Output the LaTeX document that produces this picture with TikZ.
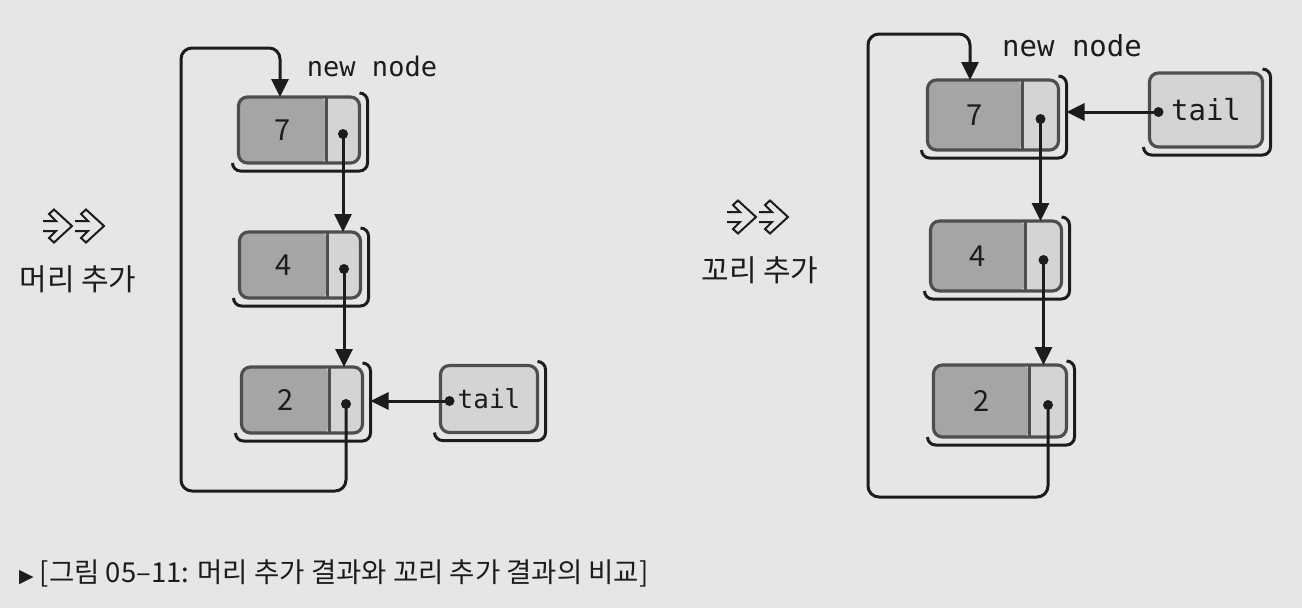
\documentclass[tikz,border=0pt]{standalone}
\usepackage{fontspec}
\setmainfont{Noto Sans CJK KR}
\newfontfamily\kr{Noto Sans CJK KR}
\newfontfamily\mono{DejaVu Sans Mono}
\newfontfamily\dv{DejaVu Sans}
\usetikzlibrary{arrows.meta,calc}
\definecolor{paper}{RGB}{230,230,228}
\definecolor{dfill}{RGB}{165,165,163}
\definecolor{pfill}{RGB}{212,212,210}
\definecolor{bord}{RGB}{78,78,78}
\definecolor{ink}{RGB}{28,28,28}
\tikzset{
  lbox/.style={draw=bord, line width=3.2pt, rounded corners=9pt, fill=pfill, outer sep=0pt, inner sep=0pt},
  divl/.style={draw=bord, line width=3pt},
  shad/.style={draw=ink, line width=3pt, rounded corners=8pt},
  conn/.style={draw=ink, line width=3pt, -{Triangle[length=18pt,width=17pt]}},
  loopc/.style={draw=ink, line width=3pt, rounded corners=11pt, -{Triangle[length=18pt,width=17pt]}},
  valtxt/.style={font=\kr\fontsize{29}{29}\selectfont, text=ink, inner sep=0pt},
  monotxt/.style={font=\mono\fontsize{#1}{#1}\selectfont, text=ink, inner sep=0pt},
  kortxt/.style={font=\kr\fontsize{30}{30}\selectfont, text=ink, inner sep=0pt},
  chev/.pic={\draw[ink, line width=2pt, line join=miter]
     (0,5) -- (13,5) -- (6,12) -- (11,16.5) -- (29,0) -- (11,-16.5) -- (6,-12) -- (13,-5) -- (0,-5);}
}
% name, x, y, w, h, pointer width, value
\newcommand\lnode[7]{%
  \node[lbox, minimum width=#4pt, minimum height=#5pt,
    path picture={\fill[dfill] (path picture bounding box.south west) rectangle ([xshift=-#6pt]path picture bounding box.north east);}]
    (#1) at (#2,#3) {};
  \draw[divl] ([xshift=-#6pt]#1.north east) -- ([xshift=-#6pt]#1.south east);
  \node[valtxt] (#1v) at ($(#1.west)!0.5!([xshift=-#6pt]#1.east)$) {#7};
  \coordinate (#1p) at ([xshift=-0.5*#6pt, yshift=-4pt]#1.east);
  \fill[ink] (#1p) circle (5pt);
  \coordinate (#1s) at ([xshift=8pt]#1.east);
  \draw[shad] ([yshift=4pt]#1.north east) -- ([xshift=8pt,yshift=4pt]#1.north east)
     -- ([xshift=8pt,yshift=-8pt]#1.south east) -- ([xshift=-6pt,yshift=-8pt]#1.south west)
     -- ([xshift=-6pt]#1.south west);
}
% name, x, y, w, h, font size
\newcommand\tnode[6]{%
  \node[lbox, minimum width=#4pt, minimum height=#5pt, monotxt=#6] (#1) at (#2,#3) {tail};
  \coordinate (#1p) at ([xshift=9pt, yshift=-2pt]#1.west);
  \fill[ink] (#1p) circle (5pt);
  \draw[shad] ([yshift=4pt]#1.north east) -- ([xshift=8pt,yshift=4pt]#1.north east)
     -- ([xshift=8pt,yshift=-8pt]#1.south east) -- ([xshift=-6pt,yshift=-8pt]#1.south west)
     -- ([xshift=-6pt]#1.south west);
}
\begin{document}
\begin{tikzpicture}[x=1pt,y=1pt]
\fill[paper] (0,0) rectangle (1302,-608);
\useasboundingbox (0,0) rectangle (1302,-608);

% ---------- left: head insertion ----------
\lnode{L7}{299}{-130}{121}{66}{33}{7}
\lnode{L4}{300}{-265}{121}{66}{33}{4}
\lnode{L2}{302}{-400}{121}{66}{33}{2}
\tnode{Lt}{489}{-399}{97}{67}{26}

\node[monotxt=27] (Lnew) at (372,-66) {new node};

\draw[conn] (L7p) -- (L7p |- L4.north);
\draw[conn] (L4p) -- (L4p |- L2.north);
\draw[conn] (Ltp) -- (Ltp -| L2s);
\coordinate (Ltop) at (181,-48);
\coordinate (Lbot) at (181,-491);
\coordinate (L7in) at ([xshift=-19pt]L7.north);
\draw[loopc] (L2p) -- (L2p |- Lbot) -- (Lbot) -- (Ltop) -- (Ltop -| L7in) -- (L7in);

\pic at (43,-226) {chev};
\pic at (75,-226) {chev};
\node[kortxt] (Llab) at (78,-279) {머리 추가};

% ---------- right: tail insertion ----------
\lnode{R7}{993}{-115}{131}{70}{36}{7}
\lnode{R4}{996}{-256}{131}{70}{36}{4}
\lnode{R2}{1000}{-401}{133}{72}{37}{2}
\tnode{Rt}{1206}{-110}{113}{74}{29}

\node[monotxt=29] (Rnew) at (1072,-46) {new node};

\draw[conn] (R7p) -- (R7p |- R4.north);
\draw[conn] (R4p) -- (R4p |- R2.north);
\draw[conn] (Rtp) -- (Rtp -| R7s);
\coordinate (Rtop) at (868,-34);
\coordinate (Rbot) at (868,-497);
\coordinate (R7in) at ([xshift=-23pt]R7.north);
\draw[loopc] (R2p) -- (R2p |- Rbot) -- (Rbot) -- (Rtop) -- (Rtop -| R7in) -- (R7in);

\pic at (727,-217) {chev};
\pic at (759,-217) {chev};
\node[kortxt] (Rlab) at (760,-270) {꼬리 추가};

% ---------- caption ----------
\node[anchor=west, inner sep=0pt, text=ink, font=\kr\fontsize{27.5}{27.5}\selectfont] (cap) at (19,-573)
  {{\dv\fontsize{19}{19}\selectfont ▶}\hspace{6pt}[그림 05–11: 머리 추가 결과와 꼬리 추가 결과의 비교]};
\end{tikzpicture}
\end{document}
